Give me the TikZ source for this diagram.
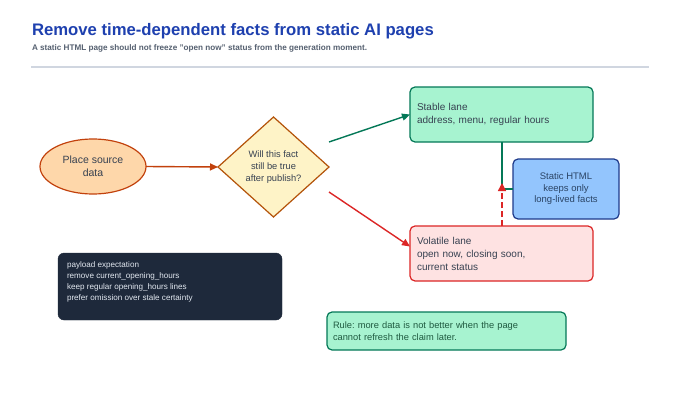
\documentclass[tikz,border=0pt]{standalone}
\usepackage{fontspec}
\setmainfont{Liberation Sans}
\usetikzlibrary{shapes.geometric,arrows.meta}
\definecolor{titleblue}{HTML}{1E40AF}
\definecolor{subgray}{HTML}{556070}
\definecolor{rulegray}{HTML}{D0D6E0}
\definecolor{txt}{HTML}{374151}
\definecolor{orfill}{HTML}{FED7AA}
\definecolor{ordraw}{HTML}{C2410C}
\definecolor{amfill}{HTML}{FEF3C7}
\definecolor{amdraw}{HTML}{B45309}
\definecolor{grfill}{HTML}{A7F3D0}
\definecolor{grdraw}{HTML}{047857}
\definecolor{rdfill}{HTML}{FEE2E2}
\definecolor{rddraw}{HTML}{DC2626}
\definecolor{blfill}{HTML}{93C5FD}
\definecolor{bldraw}{HTML}{1E3A8A}
\definecolor{bltxt}{HTML}{2B4566}
\definecolor{darkfill}{HTML}{1E293B}
\definecolor{darktxt}{HTML}{E2E8F0}
\definecolor{ruletxt}{HTML}{1F5A40}
\frenchspacing
\begin{document}
\begin{tikzpicture}[x=1pt,y=-1pt,
  every node/.style={inner sep=0pt, outer sep=0pt},
  lanebox/.style={draw, rounded corners=5pt, line width=1.2pt, minimum width=183pt, minimum height=55pt,
    text width=169pt, align=left, text=txt, font=\fontsize{10}{13}\selectfont},
  conn/.style={line width=1.4pt, -{Triangle[length=8pt,width=7pt]}},
]
\useasboundingbox[fill=white] (0,0) rectangle (680,412);

\node[anchor=base west, text=titleblue, font=\bfseries\fontsize{16.7}{20}\selectfont] (title) at (32,36)
  {Remove time-dependent facts from static AI pages};
\node[anchor=base west, text=subgray, font=\bfseries\fontsize{8.15}{10}\selectfont] (subtitle) at (32,51)
  {A static HTML page should not freeze "open now" status from the generation moment.};
\coordinate (ruleL) at (31,67);
\coordinate (ruleR) at (649,67);
\draw[rulegray, line width=1.2pt] (ruleL) -- (ruleR);

\node[ellipse, draw=ordraw, fill=orfill, line width=1.2pt, minimum width=106pt, minimum height=55pt,
  align=center, text=txt, font=\fontsize{10.5}{12.7}\selectfont] (src) at (93,166.5) {Place source\\data};

\node[diamond, draw=amdraw, fill=amfill, line width=1.2pt, minimum width=111pt, minimum height=100pt,
  align=center, text=txt, font=\fontsize{9.3}{12.3}\selectfont] (dia) at (273.5,167)
  {Will this fact\\still be true\\after publish?};

\node[lanebox, draw=grdraw, fill=grfill] (stable) at (501.5,114.5)
  {Stable lane\\address, menu, regular hours};
\node[lanebox, draw=rddraw, fill=rdfill] (vol) at (501.5,253.5)
  {Volatile lane\\open now, closing soon,\\current status};

\node[draw=bldraw, fill=blfill, rounded corners=5pt, line width=1.2pt, minimum width=106pt, minimum height=60pt,
  align=center, text=bltxt, font=\fontsize{9.5}{11.5}\selectfont] (static) at (566,189)
  {Static HTML\\keeps only\\long-lived facts};

\draw[conn, ordraw] (src.east) -- (dia.west);
\draw[conn, grdraw] ([yshift=25pt]dia.east) -- (stable.west);
\draw[conn, rddraw] ([yshift=-25pt]dia.east) -- ([yshift=7pt]vol.west);

\draw[grdraw, line width=1.6pt] ([xshift=0.5pt]stable.south) |- (static.west);
\coordinate (redtip) at (502,183);
\draw[rddraw, line width=1.4pt, dash pattern=on 6pt off 3pt, -{Triangle[length=8pt,width=8pt]}] ([xshift=0.5pt]vol.north) -- (redtip);

\node[fill=darkfill, draw=darkfill, rounded corners=6pt, minimum width=224pt, minimum height=67pt] (payload) at (170,286.5) {};
\node[anchor=north west, text=darktxt, align=left, font=\fontsize{8.1}{10.8}\selectfont] (payloadtxt) at (67,262)
  {payload expectation\\remove current\_opening\_hours\\keep regular opening\_hours lines\\prefer omission over stale certainty};

\node[draw=grdraw, fill=grfill, rounded corners=5pt, line width=1.2pt, minimum width=239pt, minimum height=38pt,
  text width=227pt, align=left, text=ruletxt, font=\fontsize{9.3}{11.5}\selectfont] (rule) at (446.5,331)
  {Rule: more data is not better when the page\\cannot refresh the claim later.};
\end{tikzpicture}
\end{document}
